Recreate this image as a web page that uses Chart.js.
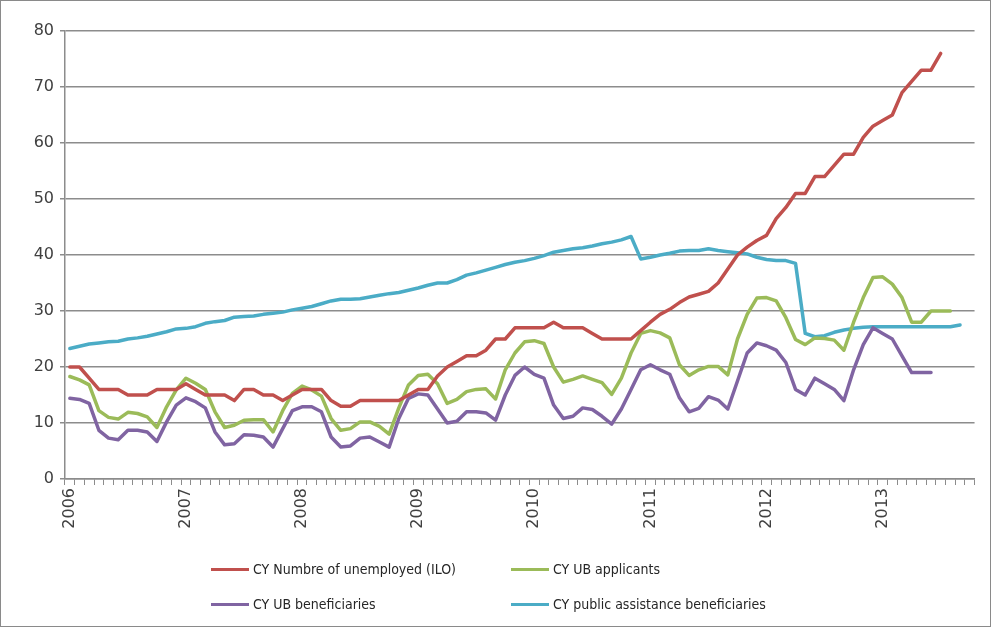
<!DOCTYPE html>
<html>
<head>
<meta charset="utf-8">
<script src="https://cdn.jsdelivr.net/npm/chart.js@4.4.1/dist/chart.umd.min.js"></script>
<style>
  html, body { margin: 0; padding: 0; background: #fff; }
  #frame {
    position: relative;
    width: 991px;
    height: 627px;
    box-sizing: border-box;
    border: 1px solid #8a8a8a;
    overflow: hidden;
  }
  #chartCanvas { position: absolute; left: 0; top: 0; }
  .legendItem {
    position: absolute;
    font-family: "DejaVu Sans Condensed", "DejaVu Sans", sans-serif;
    font-size: 14px;
    color: #262626;
    white-space: nowrap;
    line-height: 16px;
  }
  .legendItem span.swatch {
    display: inline-block;
    width: 38px;
    height: 3px;
    vertical-align: middle;
    margin-right: 4px;
    position: relative;
    top: -1px;
  }
</style>
</head>
<body>
<div id="frame">
  <canvas id="chartCanvas" width="991" height="627"></canvas>
  <div id="legendBox"></div>
</div>
<script>
// ==========================
// DATA (monthly, Jan 2006 onwards)
// ==========================

const startYear = 2006;
const monthCount = 94;

const unemployedILO = [
    20, 20, 18, 16, 16, 16, 15, 15, 15, 16, 16, 16,
    17, 16, 15, 15, 15, 14, 16, 16, 15, 15, 14, 15,
    16, 16, 16, 14, 13, 13, 14, 14, 14, 14, 14, 15,
    16, 16, 18.4, 20, 21, 22, 22, 23, 25, 25, 27, 27,
    27, 27, 28, 27, 27, 27, 26, 25, 25, 25, 25, 26.5,
    28, 29.4, 30.3, 31.5, 32.5, 33, 33.5, 35, 37.5, 40, 41.4, 42.6,
    43.5, 46.5, 48.5, 51, 51, 54, 54, 56, 58, 58, 61, 63,
    64, 65, 69, 71, 73, 73, 76
];

const ubApplicants = [
    18.3, 17.7, 16.8, 12.2, 11, 10.7, 11.9, 11.7, 11.1, 9.2, 12.9, 15.9,
    18, 17.1, 16, 12, 9.2, 9.6, 10.5, 10.6, 10.6, 8.4, 12.2, 15.3,
    16.6, 15.9, 14.8, 10.8, 8.7, 9.0, 10.2, 10.2, 9.4, 8.0, 12.7, 16.8,
    18.5, 18.7, 17.0, 13.5, 14.2, 15.6, 16.0, 16.1, 14.3, 19.5, 22.5, 24.5,
    24.7, 24.2, 20.0, 17.3, 17.8, 18.4, 17.8, 17.2, 15.1, 18, 22.5, 26.0,
    26.5, 26.1, 25.2, 20.4, 18.5, 19.5, 20.1, 20.1, 18.6, 25.0, 29.4, 32.3,
    32.4, 31.8, 28.8, 24.9, 24.0, 25.2, 25.1, 24.8, 23.0, 28, 32.4, 36,
    36.1, 34.8, 32.4, 28, 28, 30, 30, 30
];

const ubBeneficiaries = [
    14.4, 14.2, 13.5, 8.7, 7.3, 7.0, 8.7, 8.7, 8.4, 6.7, 10.2, 13.2,
    14.5, 13.8, 12.7, 8.4, 6.1, 6.3, 7.9, 7.8, 7.5, 5.7, 9.0, 12.2,
    12.9, 12.9, 12.0, 7.5, 5.7, 5.9, 7.3, 7.5, 6.6, 5.7, 10.8, 14.4,
    15.2, 15.0, 12.5, 10.0, 10.3, 12.0, 12.0, 11.8, 10.5, 15.0, 18.5, 20.0,
    18.7, 18.0, 13.2, 10.8, 11.2, 12.7, 12.4, 11.2, 9.8, 12.5, 16.0, 19.5,
    20.4, 19.5, 18.7, 14.5, 12.0, 12.6, 14.7, 14.1, 12.5, 17.5, 22.5, 24.3,
    23.8, 23.0, 20.8, 16.0, 15.0, 18.0, 17.0, 16.0, 14.0, 19.5, 24.0, 27.0,
    26.0, 25.0, 22.0, 19.0, 19.0, 19.0
];

const publicAssistance = [
    23.3, 23.7, 24.1, 24.3, 24.5, 24.6, 25.0, 25.2, 25.5, 25.9, 26.3, 26.8,
    26.9, 27.2, 27.8, 28.1, 28.3, 28.9, 29.0, 29.1, 29.4, 29.6, 29.8, 30.2,
    30.5, 30.8, 31.3, 31.8, 32.1, 32.1, 32.2, 32.5, 32.8, 33.1, 33.3, 33.7,
    34.1, 34.6, 35.0, 35.0, 35.6, 36.4, 36.8, 37.3, 37.8, 38.3, 38.7, 39.0,
    39.4, 39.9, 40.5, 40.8, 41.1, 41.3, 41.6, 42.0, 42.3, 42.7, 43.3, 39.3,
    39.6, 40.0, 40.3, 40.7, 40.8, 40.8, 41.1, 40.8, 40.6, 40.4, 40.2, 39.6,
    39.2, 39.0, 39.0, 38.5, 26.0, 25.4, 25.6, 26.2, 26.6, 26.9, 27.1, 27.2,
    27.2, 27.2, 27.2, 27.2, 27.2, 27.2, 27.2, 27.2, 27.5
];

const seriesNames = [
    "CY Numbre of unemployed (ILO)",
    "CY UB applicants",
    "CY UB beneficiaries",
    "CY public assistance beneficiaries"
];

const seriesColors = [
    "#c0504d",
    "#9bbb59",
    "#8064a2",
    "#4bacc6"
];

const yTicks = [0, 10, 20, 30, 40, 50, 60, 70, 80];

// month labels like "2006-01"
const monthLabels = [];
for (let i = 0; i < monthCount; i++) {
    const y = startYear + Math.floor(i / 12);
    const m = (i % 12) + 1;
    monthLabels.push(y + "-" + (m < 10 ? "0" + m : m));
}

// ==========================
// CHART
// ==========================

const gridGray = "#8c8c8c";
const textGray = "#404040";

const allSeries = [unemployedILO, ubApplicants, ubBeneficiaries, publicAssistance];

const ctx = document.getElementById("chartCanvas");

const chart = new Chart(ctx, {
    type: "line",
    data: {
        labels: monthLabels,
        datasets: allSeries.map((values, k) => ({
            label: seriesNames[k],
            data: values,
            borderColor: seriesColors[k],
            backgroundColor: seriesColors[k],
            borderWidth: 3.5,
            pointRadius: 0,
            tension: 0,
            fill: false,
            borderJoinStyle: "round",
            borderCapStyle: "round"
        }))
    },
    options: {
        responsive: false,
        animation: false,
        layout: {
            padding: { left: 0, top: 30, right: 16, bottom: 89 }
        },
        plugins: {
            legend: { display: false },
            tooltip: { enabled: false }
        },
        scales: {
            x: {
                type: "category",
                offset: true,
                grid: {
                    offset: true,
                    drawOnChartArea: false,
                    drawTicks: true,
                    tickLength: 6,
                    color: gridGray,
                    lineWidth: 1
                },
                border: { color: gridGray, width: 1.5 },
                ticks: {
                    autoSkip: false,
                    maxRotation: 90,
                    minRotation: 90,
                    padding: 3,
                    color: textGray,
                    font: { family: "DejaVu Sans", size: 16 },
                    callback: function (value, index) {
                        const lab = monthLabels[index];
                        return lab.endsWith("-01") ? lab.slice(0, 4) : "";
                    }
                },
                afterFit: function (scale) { scale.height = 60; }
            },
            y: {
                min: 0,
                max: 80,
                afterBuildTicks: function (scale) {
                    scale.ticks = yTicks.map(v => ({ value: v }));
                },
                grid: {
                    color: gridGray,
                    lineWidth: 1.5,
                    drawTicks: true,
                    tickLength: 5
                },
                border: { color: gridGray, width: 1.5 },
                ticks: {
                    padding: 6,
                    color: textGray,
                    font: { family: "DejaVu Sans", size: 16 }
                },
                afterFit: function (scale) { scale.width = 64; }
            }
        }
    }
});

// ==========================
// LEGEND (2 x 2 grid)
// ==========================

const legendSpots = [
    { left: 210, top: 560 },
    { left: 510, top: 560 },
    { left: 210, top: 595 },
    { left: 510, top: 595 }
];

const legendBox = document.getElementById("legendBox");

seriesNames.forEach((name, k) => {
    const item = document.createElement("div");
    item.className = "legendItem";
    item.style.left = legendSpots[k].left + "px";
    item.style.top = legendSpots[k].top + "px";
    item.innerHTML =
        '<span class="swatch" style="background:' + seriesColors[k] + '"></span>' + name;
    legendBox.appendChild(item);
});
</script>
</body>
</html>
